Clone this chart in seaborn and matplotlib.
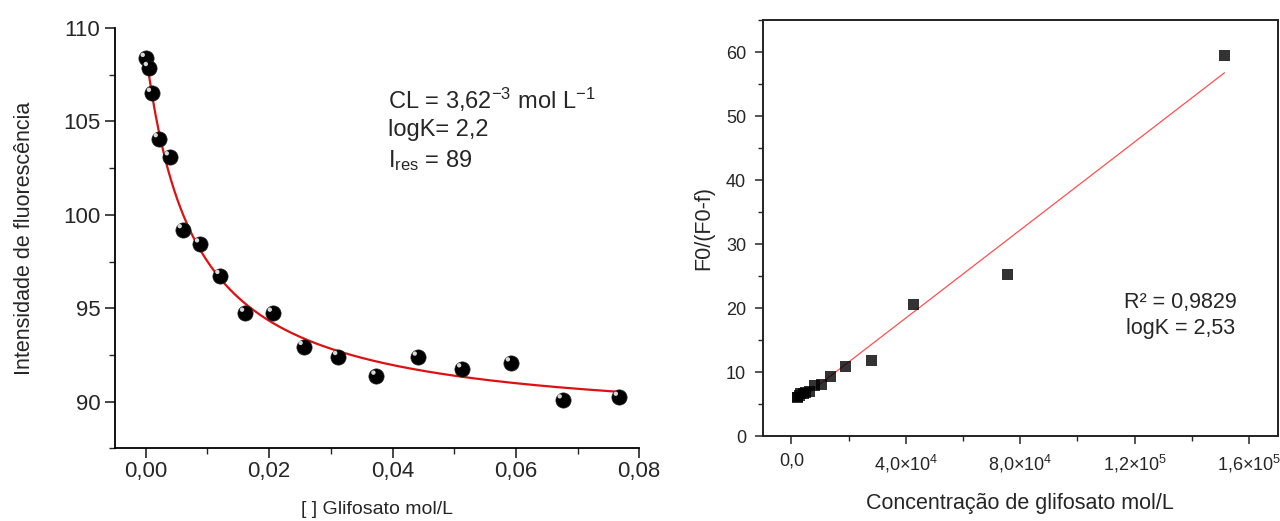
import numpy as np
import pandas as pd
import matplotlib
matplotlib.use("Agg")
import matplotlib.pyplot as plt
import matplotlib.transforms as mtransforms
from matplotlib.ticker import AutoMinorLocator, FixedLocator, FixedFormatter
import seaborn as sns

# left panel: fluorescence titration
glif_conc = [0.0, 0.0005, 0.001, 0.0021, 0.0039, 0.006, 0.0088, 0.0121, 0.0161,
             0.0206, 0.0256, 0.0312, 0.0374, 0.0441, 0.0513, 0.0592, 0.0676, 0.0767]
intensity = [108.37, 107.88, 106.5, 104.07, 103.1, 99.2, 98.44, 96.75, 94.73,
             94.73, 92.95, 92.41, 91.36, 92.38, 91.75, 92.07, 90.09, 90.23]

# right panel: F0/(F0-f) vs concentration
conc_right = [2.0e3, 2.3e3, 2.7e3, 3.3e3, 4.1e3, 5.0e3, 6.2e3, 8.2e3, 1.05e4,
              1.36e4, 1.88e4, 2.79e4, 4.28e4, 7.56e4, 1.514e5]
f_ratio = [5.95, 6.1, 6.3, 6.6, 6.66, 6.85, 7.0, 7.96, 8.1,
           9.35, 10.9, 11.76, 20.6, 25.3, 59.5]

left_yticks = [90, 95, 100, 105, 110]
left_xticks = [0.0, 0.02, 0.04, 0.06, 0.08]
left_xlabels = ["0,00", "0,02", "0,04", "0,06", "0,08"]
right_xticks = [0, 4e4, 8e4, 1.2e5, 1.6e5]
right_xlabels = ["0,0", r"4,0$\times$10$^4$", r"8,0$\times$10$^4$",
                 r"1,2$\times$10$^5$", r"1,6$\times$10$^5$"]
right_yticks = [0, 10, 20, 30, 40, 50, 60]

sns.set_style("ticks")
plt.rcParams["font.family"] = ["Liberation Sans", "DejaVu Sans"]
plt.rcParams["mathtext.fontset"] = "custom"
plt.rcParams["mathtext.rm"] = "Liberation Sans"
plt.rcParams["mathtext.it"] = "Liberation Sans:italic"
plt.rcParams["axes.unicode_minus"] = True

df_left = pd.DataFrame({"conc": glif_conc, "intens": intensity})
df_right = pd.DataFrame({"conc": conc_right, "ratio": f_ratio})

# 1:1 binding fit (grid over K, linear least squares for I0 and Ires)
c = np.array(glif_conc)
y = np.array(intensity)
best = None
for K in np.logspace(0.5, 3.5, 3000):
    frac = K * c / (1 + K * c)
    A = np.column_stack([np.ones_like(c), frac])
    coef, *_ = np.linalg.lstsq(A, y, rcond=None)
    err = np.sum((A @ coef - y) ** 2)
    if best is None or err < best[0]:
        best = (err, K, coef)
_, K_fit, (I0, dI) = best
c_fit = np.linspace(0, c.max(), 300)
df_fit = pd.DataFrame({"conc": c_fit,
                       "intens": I0 + dI * K_fit * c_fit / (1 + K_fit * c_fit)})

fig = plt.figure(figsize=(12.8, 5.21), dpi=100)
ax1 = fig.add_axes([0.0898, 0.1395, 0.4096, 0.8067])
ax2 = fig.add_axes([0.5959, 0.1631, 0.4023, 0.7985])

# ---- left panel
sns.lineplot(data=df_fit, x="conc", y="intens", color="#dd1111", lw=1.6, ax=ax1)
sns.scatterplot(data=df_left, x="conc", y="intens", color="black", s=120,
                edgecolor="#222222", linewidth=0.5, ax=ax1, zorder=3)
# little highlight on each sphere
hl = mtransforms.offset_copy(ax1.transData, fig=fig, x=-2.2, y=2.6, units="points")
ax1.scatter(glif_conc, intensity, s=10, color="#d8d8d8", edgecolor="none",
            transform=hl, zorder=4)

ax1.set_xlim(-0.005, 0.08)
ax1.set_ylim(87.5, 110)
ax1.xaxis.set_major_locator(FixedLocator(left_xticks))
ax1.xaxis.set_major_formatter(FixedFormatter(left_xlabels))
ax1.set_yticks(left_yticks)
ax1.xaxis.set_minor_locator(AutoMinorLocator(2))
ax1.yaxis.set_minor_locator(AutoMinorLocator(2))
ax1.tick_params(which="major", length=7, width=1.2, labelsize=16, direction="out")
ax1.tick_params(axis="x", pad=2)
ax1.tick_params(which="minor", length=4, width=1.0, direction="out")
sns.despine(ax=ax1)
for s in ["left", "bottom"]:
    ax1.spines[s].set_linewidth(1.3)
    ax1.spines[s].set_color("black")
ax1.set_xlabel("[ ] Glifosato mol/L", fontsize=14, labelpad=14)
ax1.set_ylabel("Intensidade de fluorescência", fontsize=15.5, labelpad=20)

ax1.text(0.52, 0.829, r"CL = 3,62$^{-3}$ mol L$^{-1}$", transform=ax1.transAxes,
         fontsize=17, va="center")
ax1.text(0.52, 0.757, "logK= 2,2", transform=ax1.transAxes, fontsize=17, va="center")
ax1.text(0.52, 0.685, r"I$_{\rm res}$ = 89", transform=ax1.transAxes,
         fontsize=17, va="center")

# ---- right panel
sns.regplot(data=df_right, x="conc", y="ratio", ci=None, truncate=True, ax=ax2,
            marker="s",
            scatter_kws={"color": "black", "s": 62, "edgecolor": "none", "zorder": 3},
            line_kws={"color": "#ff5050", "lw": 0.9, "zorder": 2})
ax2.set_xlim(-1e4, 1.7e5)
ax2.set_ylim(0, 65)
ax2.xaxis.set_major_locator(FixedLocator(right_xticks))
ax2.xaxis.set_major_formatter(FixedFormatter(right_xlabels))
ax2.set_yticks(right_yticks)
ax2.xaxis.set_minor_locator(AutoMinorLocator(2))
ax2.yaxis.set_minor_locator(AutoMinorLocator(2))
ax2.tick_params(which="major", length=6, width=1.1, labelsize=13, direction="out",
                pad=6)
ax2.tick_params(which="minor", length=3.5, width=1.0, direction="out")
for s in ax2.spines.values():
    s.set_linewidth(1.4)
    s.set_color("#222222")
ax2.set_xlabel("Concentração de glifosato mol/L", fontsize=15.5, labelpad=13)
ax2.set_ylabel("F0/(F0-f)", fontsize=15.5, labelpad=8)

ax2.text(0.702, 0.322, "R² = 0,9829", transform=ax2.transAxes, fontsize=15.5,
         va="center")
ax2.text(0.705, 0.258, "logK = 2,53", transform=ax2.transAxes, fontsize=15.5,
         va="center")

fig.savefig("out.png", dpi=100)
